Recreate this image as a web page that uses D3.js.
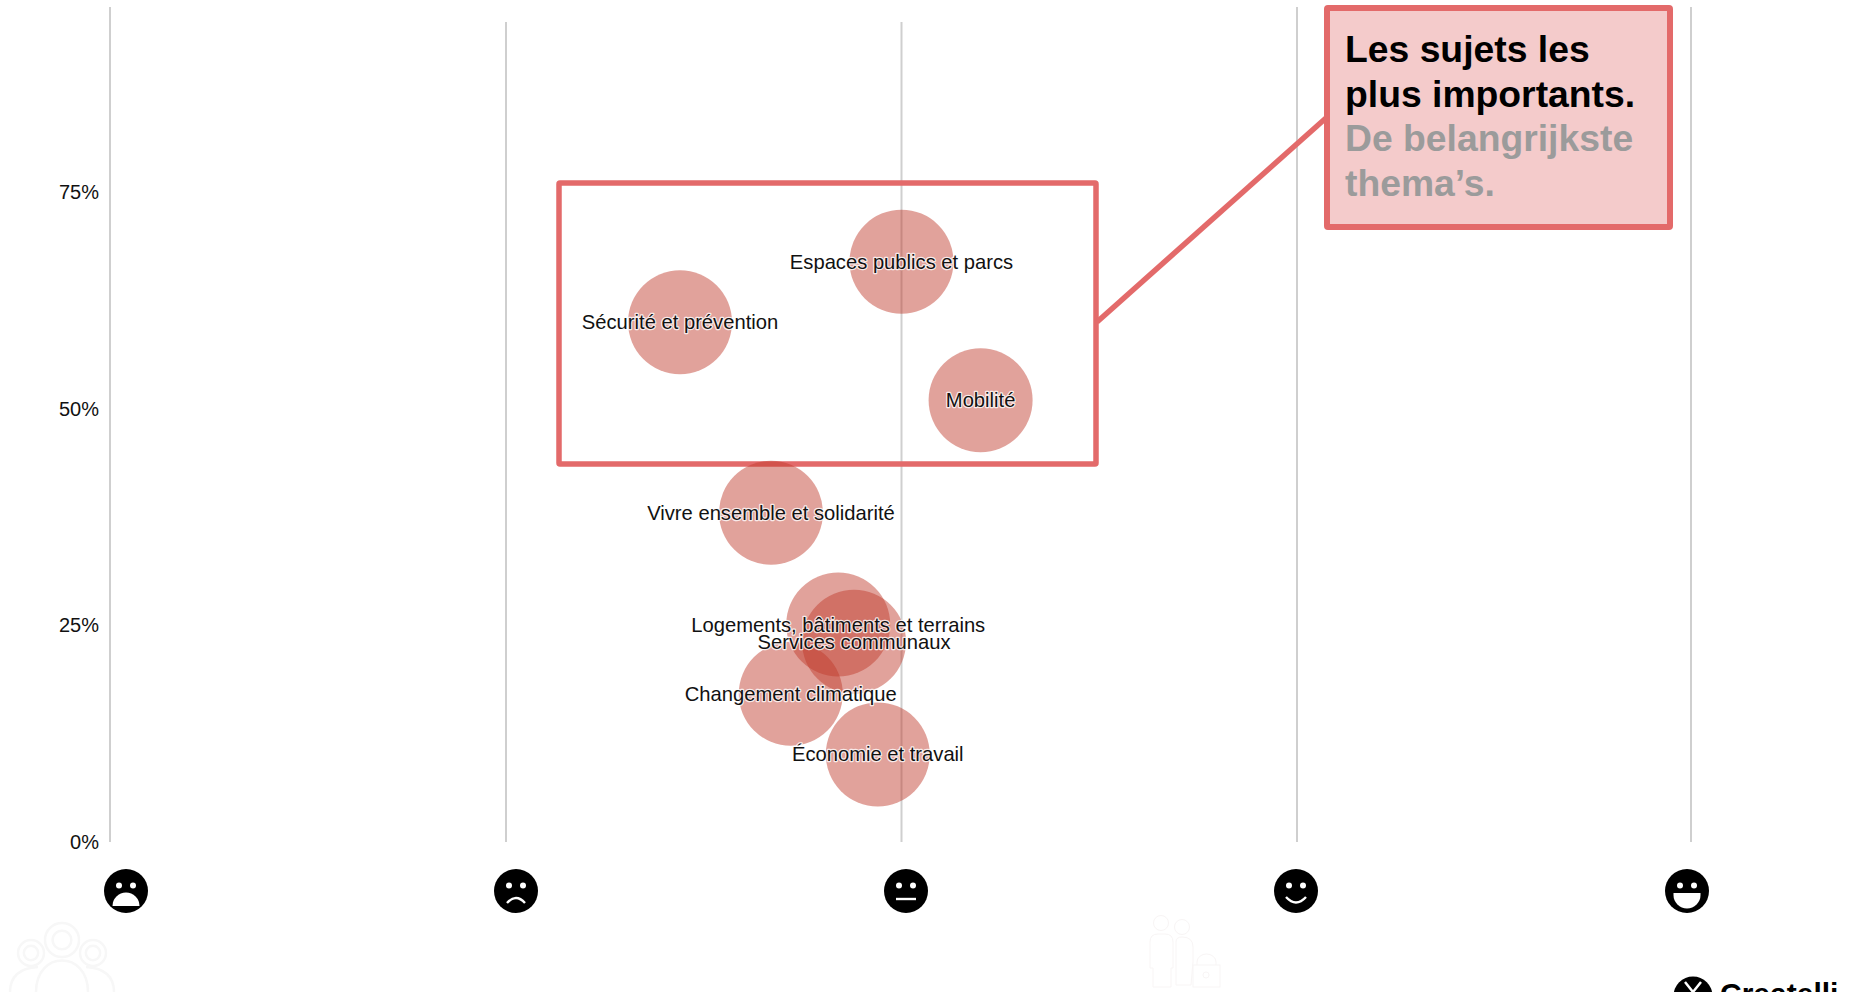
<!DOCTYPE html>
<html><head><meta charset="utf-8">
<script src="https://cdn.jsdelivr.net/npm/d3@7"></script>
<style>
html,body{margin:0;padding:0;background:#fff;overflow:hidden}
svg{display:block;font-family:"Liberation Sans",Arial,sans-serif}
.lbl{font-size:20.2px;fill:#111;text-anchor:middle;paint-order:stroke;stroke:#fff;stroke-width:2.4px;stroke-opacity:.8;stroke-linejoin:round}
</style></head><body>
<svg id="c" width="1850" height="992"></svg>
<script>
const topics = ["Espaces publics et parcs","Sécurité et prévention","Mobilité","Vivre ensemble et solidarité","Logements, bâtiments et terrains","Services communaux","Changement climatique","Économie et travail"];
const sentiment = [3.0,2.44,3.2,2.67,2.84,2.88,2.72,2.94];
const share = [66.9,59.9,50.9,37.9,25,23,17,10];
const yTicks = [0,25,50,75];
const moods = [1,2,3,4,5];
const gridPx = [110,506,901.5,1297,1691];
const gridTop = [7,22,22,7,7];
const faceType = ["veryBad","bad","neutral","good","veryGood"];
const faceX = [126,516,906,1296,1687];

const svg = d3.select("#c");
const x = d3.scaleLinear().domain(moods).range(gridPx);
const y = d3.scaleLinear().domain([0,100]).range([841,-25]);
const red = "#e36a6a";

// gridlines
svg.append("g").selectAll("line").data(moods).join("line")
  .attr("x1",d=>x(d)).attr("x2",d=>x(d))
  .attr("y1",(d,i)=>gridTop[i]).attr("y2",842)
  .attr("stroke","#cfcfcf").attr("stroke-width",2);

// y axis labels
svg.append("g").selectAll("text").data(yTicks).join("text")
  .attr("x",99).attr("y",d=>y(d)+7.5).attr("text-anchor","end")
  .attr("font-size",20).attr("fill","#111").text(d=>d+"%");

// highlight box & callout connector
svg.append("rect").attr("x",559).attr("y",183).attr("width",537).attr("height",281)
  .attr("fill","none").attr("stroke",red).attr("stroke-width",5.5).attr("rx",1);
svg.append("line").attr("x1",1097).attr("y1",322).attr("x2",1326).attr("y2",118)
  .attr("stroke",red).attr("stroke-width",5.5);

// bubbles
const pts = topics.map((t,i)=>({t,x:sentiment[i],y:share[i]}));
svg.append("g").selectAll("circle").data(pts).join("circle")
  .attr("cx",d=>x(d.x)).attr("cy",d=>y(d.y)).attr("r",52)
  .attr("fill","#c0392b").attr("fill-opacity",.47);
svg.append("g").selectAll("text").data(pts).join("text")
  .attr("class","lbl").attr("x",d=>x(d.x)).attr("y",d=>y(d.y)+7).text(d=>d.t);

// callout
svg.append("rect").attr("x",1327).attr("y",8).attr("width",343).attr("height",219)
  .attr("fill","#f4cbcb").attr("stroke",red).attr("stroke-width",6).attr("rx",1);
const lines = [["Les sujets les","#000"],["plus importants.","#000"],["De belangrijkste","#9b9b9b"],["thema’s.","#9b9b9b"]];
svg.append("g").selectAll("text").data(lines).join("text")
  .attr("x",1345).attr("y",(d,i)=>62+i*44.7)
  .attr("font-size",37.3).attr("font-weight",700).attr("fill",d=>d[1]).text(d=>d[0]);

// faces
const fg = svg.append("g").selectAll("g").data(faceType).join("g")
  .attr("transform",(d,i)=>`translate(${faceX[i]},891)`);
fg.append("circle").attr("r",22).attr("fill","#000");
fg.append("circle").attr("cx",-7).attr("cy",-5.5).attr("r",3).attr("fill","#fff");
fg.append("circle").attr("cx",7).attr("cy",-5.5).attr("r",3).attr("fill","#fff");
fg.each(function(d){
  const g=d3.select(this);
  if(d==="veryBad") g.append("path").attr("d","M-13.5,15 A13.5,13.5 0 0 1 13.5,15 Z").attr("fill","#fff");
  if(d==="bad") g.append("path").attr("d","M-9,12 Q0,2 9,12").attr("fill","none").attr("stroke","#fff").attr("stroke-width",2.4);
  if(d==="neutral") g.append("line").attr("x1",-10).attr("x2",10).attr("y1",8).attr("y2",8).attr("stroke","#fff").attr("stroke-width",2.4);
  if(d==="good") g.append("path").attr("d","M-10,6 Q0,17 10,6").attr("fill","none").attr("stroke","#fff").attr("stroke-width",2.4);
  if(d==="veryGood") g.append("path").attr("d","M-13.5,2 H13.5 V4 A13.5,13.5 0 0 1 -13.5,4 Z").attr("fill","#fff");
});

// faint decorative icons
const faint = svg.append("g").attr("fill","none").attr("stroke","#f7f7f7").attr("stroke-width",2.5);
[[62,940,17],[31,953,13],[93,953,13]].forEach(a=>{
  faint.append("circle").attr("cx",a[0]).attr("cy",a[1]).attr("r",a[2]);
  faint.append("circle").attr("cx",a[0]).attr("cy",a[1]).attr("r",a[2]*.55);
});
faint.append("path").attr("d","M36,992 C36,950 88,950 88,992 M10,992 C10,975 22,968 38,967 M114,992 C114,975 102,968 86,967");
const f2 = svg.append("g").attr("fill","none").attr("stroke","#f8f5f5").attr("stroke-width",1);
f2.append("circle").attr("cx",1161).attr("cy",923).attr("r",7.5);
f2.append("circle").attr("cx",1182).attr("cy",927).attr("r",7.5);
f2.append("path").attr("d","M1150,968 V942 Q1150,934 1158,934 H1165 Q1173,934 1173,942 V968 H1171 V987 H1153 V968 Z");
f2.append("path").attr("d","M1176,965 V942 Q1176,937 1182,937 Q1193,937 1193,947 V962 L1191,985 H1176 Z");
f2.append("rect").attr("x",1193).attr("y",965).attr("width",27).attr("height",22);
f2.append("path").attr("d","M1197,965 V962 A9.5,8 0 0 1 1216,962 V965");
f2.append("circle").attr("cx",1206).attr("cy",975).attr("r",3);

// logo (cut off by the page edge)
svg.append("circle").attr("cx",1693).attr("cy",996).attr("r",19.5).attr("fill","#000");
svg.append("path").attr("d","M1685,982 L1693,992 L1701,982").attr("fill","none").attr("stroke","#fff").attr("stroke-width",2.5);
svg.append("text").attr("x",1720).attr("y",1004).attr("font-size",30).attr("font-weight",700).attr("fill","#000").text("Createlli");
</script></body></html>
